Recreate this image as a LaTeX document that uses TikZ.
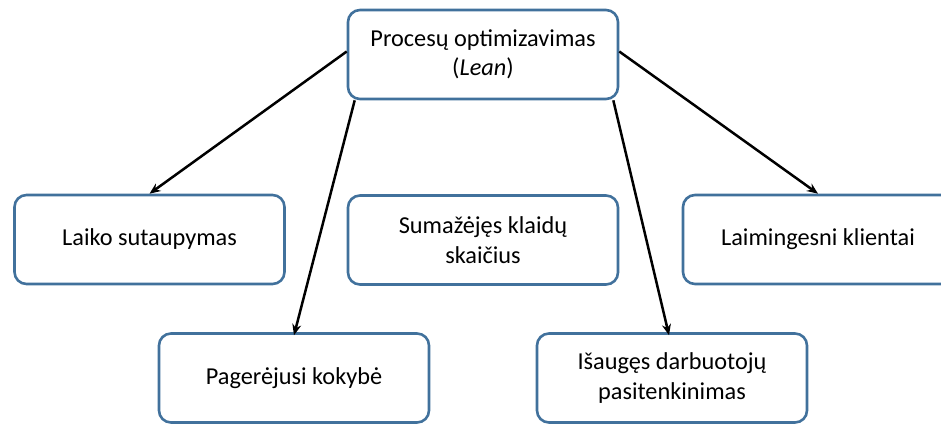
\documentclass[tikz,border=0pt]{standalone}
\usepackage{fontspec}
\setmainfont{Carlito}
\usetikzlibrary{arrows.meta}
\definecolor{boxblue}{HTML}{41719C}
\begin{document}
\begin{tikzpicture}[x=1pt, y=-1pt,
       every node/.style={draw=boxblue, line width=2.6pt, fill=white,
             minimum width=270pt, minimum height=89pt, align=center,
             rounded corners=12pt, font=\fontsize{24.3}{29.5}\selectfont},
       arr/.style={draw=black, line width=2.5pt, -{Stealth[length=11pt,width=9pt]}}]
\clip (0,0) rectangle (941,424);
\node (procesai) at (483,54.5) {Procesų optimizavimas\\(\textit{Lean})};
\node (laikas) at (149.5,239.5) {Laiko sutaupymas};
\node (klaidos) at (483,240) {Sumažėjęs klaidų\\skaičius};
\node (klientai) at (818,239.5) {Laimingesni klientai};
\node (kokybe) at (294,378) {Pagerėjusi kokybė};
\node (darbuotojai) at (672,378) {Išaugęs darbuotojų\\pasitenkinimas};
% rodyklės
\draw[arr] ([yshift=3pt]procesai.west) -- (laikas.north);
\draw[arr] ([xshift=8pt]procesai.south west) -- ([yshift=-3pt]kokybe.north);
\draw[arr] ([xshift=-6pt]procesai.south east) -- ([yshift=-3pt,xshift=-3pt]darbuotojai.north);
\draw[arr] ([yshift=3pt]procesai.east) -- (klientai.north);
\end{tikzpicture}
\end{document}
